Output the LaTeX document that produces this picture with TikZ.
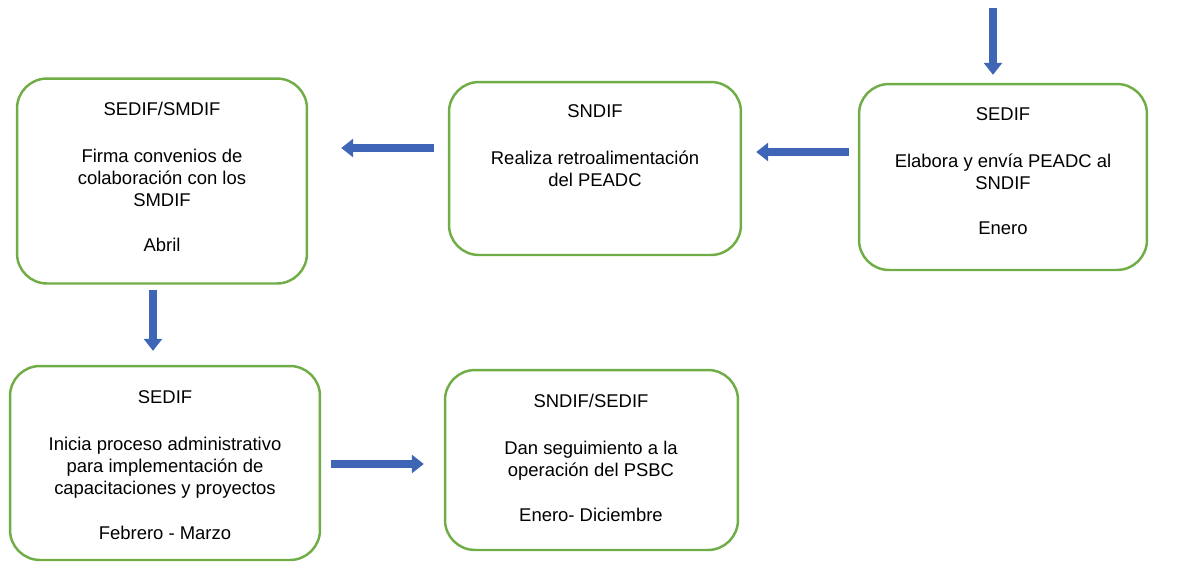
\documentclass[tikz,border=0pt]{standalone}
\usepackage{fontspec}
\setmainfont{Liberation Sans}
\usetikzlibrary{arrows.meta}
\definecolor{verdecaja}{RGB}{112,173,71}
\definecolor{azulflecha}{RGB}{63,101,183}
\tikzset{
  caja/.style={draw=verdecaja,line width=1.4pt,rounded corners=0.6cm,inner sep=0pt},
  texto/.style={anchor=north,align=center,inner sep=0pt,font=\fontsize{10.5}{12.5}\selectfont},
  flecha/.style={draw=azulflecha,line width=4pt,-{Triangle[length=0.24cm,width=0.36cm]}}
}
\begin{document}
\begin{tikzpicture}[x=0.02cm,y=-0.02cm]
  \useasboundingbox (0,0) rectangle (1178,562);
  % cajas
  \node[caja,minimum width=5.8cm,minimum height=4.1cm] (b1) at (162,181) {};
  \node[caja,minimum width=5.84cm,minimum height=3.46cm] (b2) at (595,168.5) {};
  \node[caja,minimum width=5.76cm,minimum height=3.72cm] (b3) at (1003,177) {};
  \node[caja,minimum width=6.2cm,minimum height=3.88cm] (b4) at (165,463) {};
  \node[caja,minimum width=5.86cm,minimum height=3.6cm] (b5) at (591.5,460) {};
  % textos
  \node[texto] (t1) at (162,102) {SEDIF/SMDIF\\[0.5cm]Firma convenios de\\colaboración con los\\SMDIF\\[0.46cm]Abril};
  \node[texto] (t2) at (595,104) {SNDIF\\[0.5cm]Realiza retroalimentación\\del PEADC};
  \node[texto] (t3) at (1003,107) {SEDIF\\[0.5cm]Elabora y envía PEADC al\\SNDIF\\[0.46cm]Enero};
  \node[texto] (t4) at (165,390) {SEDIF\\[0.5cm]Inicia proceso administrativo\\para implementación de\\capacitaciones y proyectos\\[0.46cm]Febrero - Marzo};
  \node[texto] (t5) at (591,394) {SNDIF/SEDIF\\[0.5cm]Dan seguimiento a la\\operación del PSBC\\[0.46cm]Enero- Diciembre};
  % flechas
  \coordinate (inicio) at (993,8);
  \draw[flecha] (inicio) -- ([shift={(-10,-8)}]b3.north);
  \draw[flecha] ([shift={(-9,-25)}]b3.west) -- ([shift={(14,-16.5)}]b2.east);
  \draw[flecha] ([shift={(-14,-20.5)}]b2.west) -- ([shift={(33,-33)}]b1.east);
  \draw[flecha] ([shift={(-9,5)}]b1.south) -- ([shift={(-12,-14)}]b4.north);
  \draw[flecha] ([shift={(10,1)}]b4.east) -- ([shift={(-20,4)}]b5.west);
\end{tikzpicture}
\end{document}
